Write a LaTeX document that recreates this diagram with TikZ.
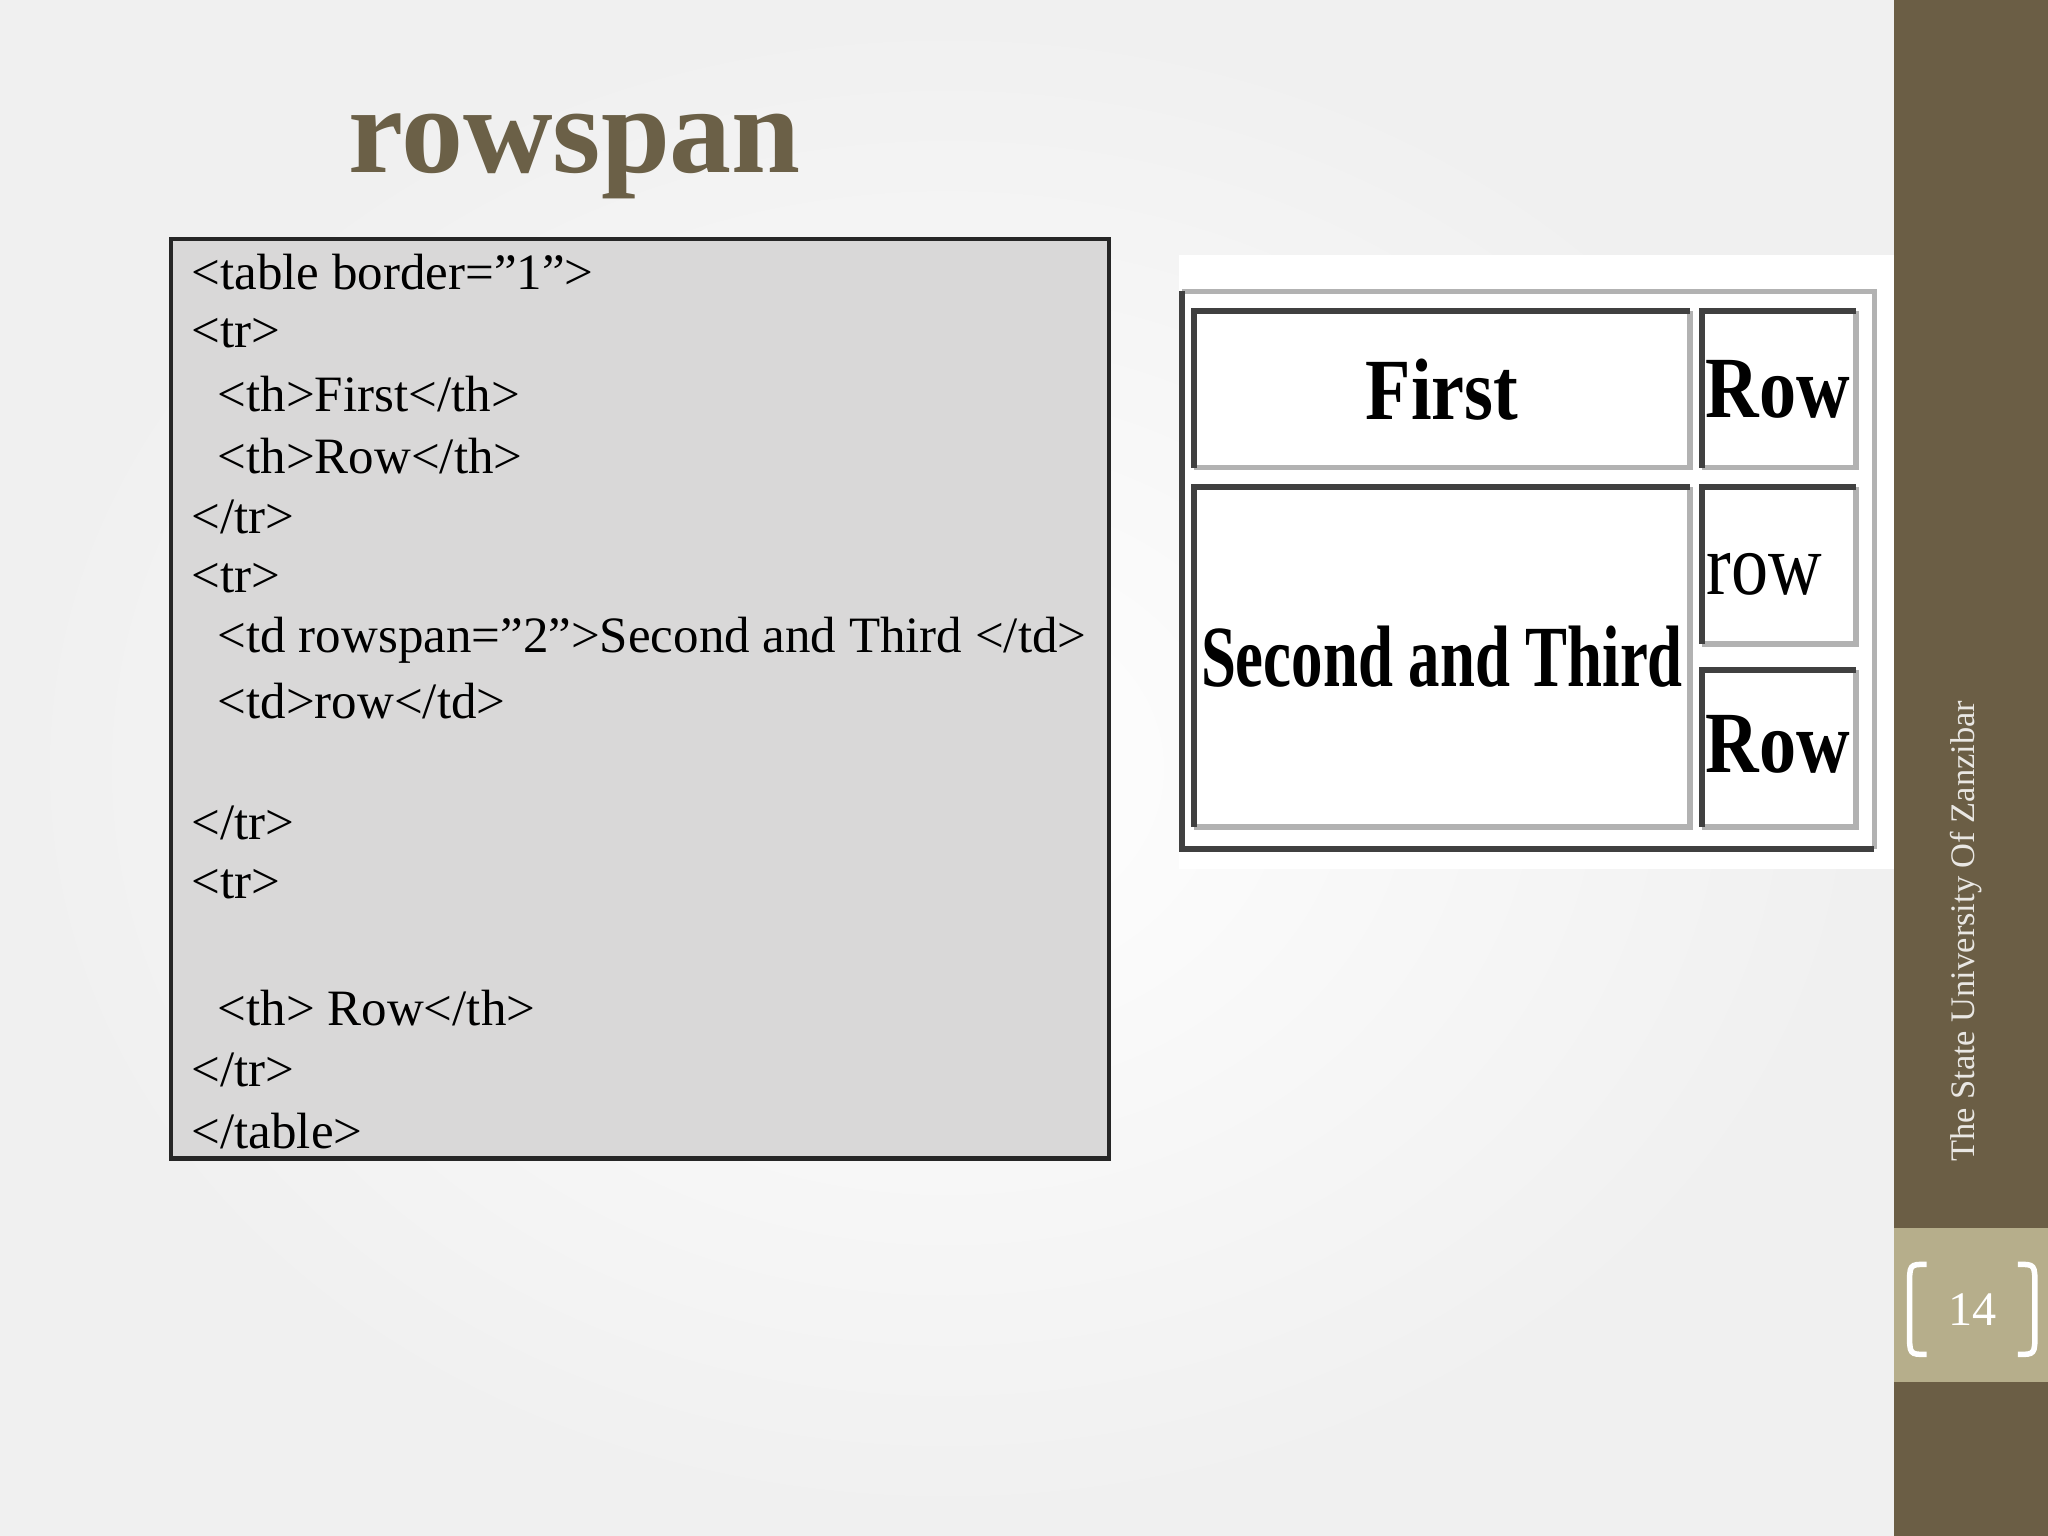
\documentclass[tikz,border=0pt]{standalone}
\usepackage{fontspec}
\setmainfont{Liberation Serif}
\begin{document}
\begin{tikzpicture}[x=0.01cm,y=-0.01cm,
  codeline/.style={anchor=west,inner sep=0pt,font=\fontsize{11.1}{13}\selectfont},
  cellbox/.style={inner sep=0pt,font=\fontsize{19}{20}\selectfont\bfseries}]
\def\dq{\char34\relax}
\definecolor{band}{HTML}{6B5E45}
\definecolor{numbg}{HTML}{B6AE8B}
\definecolor{titlec}{HTML}{6B6047}
\definecolor{codebg}{HTML}{D9D8D8}
\useasboundingbox (0,0) rectangle (1568,1176);
\shade[inner color=white,outer color=gray!12] (0,0) rectangle (1450,1176);
\fill[band] (1450,0) rectangle (1568,1176);
\fill[numbg] (1450,940) rectangle (1568,1058);
\draw[white,line width=1.2pt] (1475,968) .. controls (1462,968) .. (1462,985) -- (1462,1020) .. controls (1462,1037) .. (1475,1037);
\draw[white,line width=1.2pt] (1545,968) .. controls (1558,968) .. (1558,985) -- (1558,1020) .. controls (1558,1037) .. (1545,1037);
\node[white,font=\fontsize{10.5}{12}\selectfont] (num) at (1510,1003) {14};
\node[white!85!band,rotate=90,font=\fontsize{7.5}{9}\selectfont] (uni) at (1505,713) {The State University Of Zanzibar};
\node[titlec,font=\fontsize{27}{32}\selectfont\bfseries] (title) at (440,120) {rowspan};
% code box
\draw[fill=codebg,draw=black!85,line width=0.9pt] (131,183) rectangle (849,887);
\node[codeline] (l1) at (146,208) {<table border=\dq 1\dq>};
\node[codeline] (l2) at (146,255) {<tr>};
\node[codeline] (l3) at (166,302) {<th>First</th>};
\node[codeline] (l4) at (166,349) {<th>Row</th>};
\node[codeline] (l5) at (146,396) {</tr>};
\node[codeline] (l6) at (146,443) {<tr>};
\node[codeline] (l7) at (166,490) {<td rowspan=\dq 2\dq>Second and Third </td>};
\node[codeline] (l8) at (166,537) {<td>row</td>};
\node[codeline] (l9) at (146,630) {</tr>};
\node[codeline] (l10) at (146,677) {<tr>};
\node[codeline] (l11) at (166,772) {<th> Row</th>};
\node[codeline] (l12) at (146,819) {</tr>};
\node[codeline] (l13) at (146,866) {</table>};
% rendered table
\fill[white] (903,195) rectangle (1450,665);
\newcommand{\insetbox}[4]{%
  \draw[gray!60,line width=1.2pt] (#1,#4) -- (#3,#4) -- (#3,#2);
  \draw[black!75,line width=1.2pt] (#1,#4) -- (#1,#2) -- (#3,#2);}
\draw[gray!60,line width=1.2pt] (905,223) -- (1435,223) -- (1435,650);
\draw[black!75,line width=1.2pt] (905,223) -- (905,650) -- (1435,650);
\insetbox{914}{238}{1294}{358}
\insetbox{1303}{238}{1421}{358}
\insetbox{914}{373}{1294}{633}
\insetbox{1303}{373}{1421}{493}
\insetbox{1303}{513}{1421}{633}
\node[cellbox,xscale=0.85] (c1) at (1104,298) {First};
\node[cellbox,xscale=0.85] (c2) at (1361,298) {Row};
\node[cellbox,xscale=0.72] (c3) at (1104,503) {Second and Third};
\node[cellbox,xscale=0.85,font=\fontsize{19}{20}\selectfont,anchor=west] (c4) at (1306,440) {row};
\node[cellbox,xscale=0.85] (c5) at (1361,570) {Row};
\end{tikzpicture}
\end{document}
